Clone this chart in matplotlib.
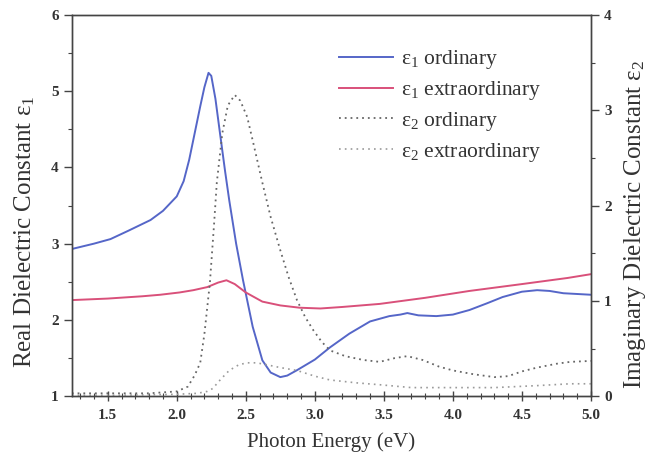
import numpy as np
import matplotlib
matplotlib.use('Agg')
import matplotlib.pyplot as plt
from matplotlib.ticker import MultipleLocator

plt.rcParams['font.family'] = ['Liberation Serif', 'DejaVu Serif']
plt.rcParams['mathtext.fontset'] = 'custom'
plt.rcParams['mathtext.rm'] = 'Liberation Serif'
plt.rcParams['mathtext.it'] = 'Liberation Serif'

# ---- data
# eps1 ordinary (left axis)
e1o_E = [1.24, 1.40, 1.52, 1.65, 1.81, 1.90, 2.00, 2.05, 2.09, 2.13, 2.17, 2.20, 2.23, 2.25,
         2.28, 2.31, 2.35, 2.38, 2.43, 2.48, 2.55, 2.62, 2.68, 2.75, 2.80, 2.87, 3.00, 3.11,
         3.25, 3.40, 3.54, 3.62, 3.67, 3.75, 3.88, 4.00, 4.12, 4.25, 4.36, 4.50, 4.61, 4.70,
         4.80, 4.90, 5.00]
e1o = [2.93, 3.00, 3.06, 3.17, 3.31, 3.43, 3.62, 3.82, 4.10, 4.45, 4.80, 5.05, 5.24, 5.20,
       4.90, 4.49, 3.95, 3.57, 3.00, 2.52, 1.91, 1.47, 1.31, 1.25, 1.27, 1.34, 1.48, 1.64,
       1.82, 1.98, 2.05, 2.07, 2.09, 2.06, 2.05, 2.07, 2.13, 2.22, 2.30, 2.37, 2.39, 2.38,
       2.35, 2.34, 2.33]

# eps1 extraordinary (left axis)
e1e_E = [1.24, 1.50, 1.75, 1.88, 2.02, 2.12, 2.22, 2.30, 2.36, 2.42, 2.50, 2.62, 2.75, 2.89,
         3.04, 3.20, 3.47, 3.80, 4.12, 4.50, 4.83, 5.00]
e1e = [2.26, 2.28, 2.31, 2.33, 2.36, 2.39, 2.43, 2.49, 2.52, 2.47, 2.36, 2.24, 2.19, 2.16,
       2.15, 2.17, 2.21, 2.29, 2.38, 2.47, 2.55, 2.60]

# eps2 ordinary (right axis)
e2o_E = [1.24, 1.50, 1.80, 2.00, 2.08, 2.13, 2.17, 2.20, 2.24, 2.27, 2.29, 2.33, 2.37, 2.42,
         2.46, 2.51, 2.56, 2.62, 2.68, 2.75, 2.81, 2.87, 2.93, 2.99, 3.05, 3.11, 3.22, 3.35,
         3.47, 3.58, 3.67, 3.78, 3.90, 4.00, 4.15, 4.30, 4.40, 4.50, 4.61, 4.75, 4.85, 5.00]
e2o = [0.03, 0.03, 0.03, 0.05, 0.10, 0.22, 0.35, 0.65, 1.19, 1.80, 2.24, 2.76, 3.05, 3.16,
       3.10, 2.93, 2.62, 2.24, 1.88, 1.53, 1.25, 1.01, 0.83, 0.69, 0.57, 0.48, 0.42, 0.38,
       0.36, 0.40, 0.42, 0.38, 0.31, 0.27, 0.23, 0.20, 0.21, 0.26, 0.30, 0.34, 0.36, 0.37]

# eps2 extraordinary (right axis)
e2e_E = [1.24, 1.60, 2.00, 2.15, 2.22, 2.26, 2.32, 2.38, 2.45, 2.51, 2.58, 2.65, 2.75, 2.87,
         3.00, 3.11, 3.30, 3.47, 3.70, 4.00, 4.30, 4.60, 4.85, 5.00]
e2e = [0.01, 0.01, 0.02, 0.03, 0.05, 0.08, 0.18, 0.27, 0.33, 0.35, 0.35, 0.33, 0.30, 0.27,
       0.21, 0.17, 0.14, 0.12, 0.09, 0.09, 0.09, 0.11, 0.13, 0.13]

fig = plt.figure(figsize=(6.53, 4.65), dpi=100)
ax = fig.add_axes([0.110, 0.148, 0.795, 0.820])
ax2 = ax.twinx()

l1, = ax.plot(e1o_E, e1o, color='#5566c8', lw=1.4, label=r'ε$_1$ ordinary')
l2, = ax.plot(e1e_E, e1e, color='#d9507a', lw=1.4, label=r'ε$_1$ extraordinary')
l3, = ax2.plot(e2o_E, e2o, color='#666666', lw=1.3, ls=(0, (1, 2.2)), label=r'ε$_2$ ordinary')
l4, = ax2.plot(e2e_E, e2e, color='#9a9a9a', lw=1.2, ls=(0, (1, 2.5)), label=r'ε$_2$ extraordinary')

ax.set_xlim(1.24, 5.0)
ax.set_ylim(1, 6)
ax2.set_ylim(0, 4)
ax.xaxis.set_major_locator(MultipleLocator(0.5))
ax.xaxis.set_minor_locator(MultipleLocator(0.1))
ax.yaxis.set_major_locator(MultipleLocator(1))
ax.yaxis.set_minor_locator(MultipleLocator(0.5))
ax2.yaxis.set_major_locator(MultipleLocator(1))
ax2.yaxis.set_minor_locator(MultipleLocator(0.5))
ax.set_xticks([1.5, 2.0, 2.5, 3.0, 3.5, 4.0, 4.5, 5.0])
ax.set_xticklabels(['1.5', '2.0', '2.5', '3.0', '3.5', '4.0', '4.5', '5.0'])

for a in (ax, ax2):
    for s in a.spines.values():
        s.set_color('#444444')
        s.set_linewidth(1.0)
ax.tick_params(axis='x', which='major', direction='inout', length=7, width=1, colors='#444444',
               labelsize=11, labelcolor='#333333', pad=6)
ax.tick_params(axis='x', which='minor', direction='inout', length=4, width=0.8, colors='#444444')
ax.tick_params(axis='y', which='major', direction='out', length=6, width=1, colors='#444444',
               labelsize=11, labelcolor='#333333')
ax.tick_params(axis='y', which='minor', direction='out', length=3, width=0.8, colors='#444444')
ax2.tick_params(axis='y', which='major', direction='out', length=6, width=1, colors='#444444',
                labelsize=11, labelcolor='#333333')
ax2.tick_params(axis='y', which='minor', direction='out', length=3, width=0.8, colors='#444444')
for lab in ax.get_xticklabels() + ax.get_yticklabels() + ax2.get_yticklabels():
    lab.set_fontweight('bold')

ax.set_xlabel('Photon Energy (eV)', fontsize=15, color='#333333', labelpad=7)
ax.set_ylabel(r'Real Dielectric Constant ε$_1$', fontsize=18, color='#333333', labelpad=10, y=0.43)
ax2.set_ylabel(r'Imaginary Dielectric Constant ε$_2$', fontsize=18, color='#333333', labelpad=7, y=0.45)

ax.legend(handles=[l1, l2, l3, l4], loc='upper left', bbox_to_anchor=(0.477, 0.963),
          frameon=False, fontsize=15.5, handlelength=2.5, labelspacing=0.36,
          handletextpad=0.4, labelcolor='#333333')

fig.savefig('out.png', dpi=100)
